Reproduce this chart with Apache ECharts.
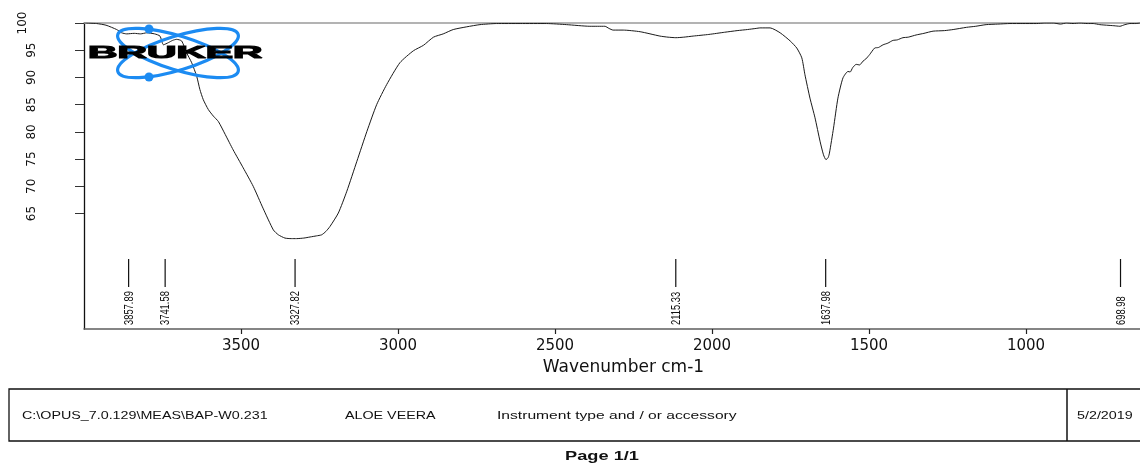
<!DOCTYPE html>
<html>
<head>
<meta charset="utf-8">
<title>ALOE VEERA – IR spectrum</title>
<script src="https://cdn.jsdelivr.net/npm/echarts@6/dist/echarts.min.js"></script>
<style>
  html, body { margin: 0; padding: 0; background: #ffffff; }
  #chart { width: 1140px; height: 464px; }
</style>
</head>
<body>
<div id="chart"></div>
<script>
// Wavenumber (cm-1) of each sampled point of the transmittance trace
const wavenumber = [3996, 3960, 3930, 3896, 3880, 3864, 3840, 3820, 3800, 3775, 3758, 3747, 3731, 3718, 3705, 3689,
  3673, 3657, 3641, 3631, 3620, 3604, 3588, 3572, 3550, 3525, 3493, 3461, 3430, 3397, 3381, 3360, 3340, 3323,
  3300, 3280, 3260, 3243, 3230, 3217, 3190, 3163, 3131, 3099, 3068, 3036, 2994, 2951, 2919, 2887, 2856, 2824,
  2781, 2739, 2686, 2611, 2527, 2463, 2389, 2341, 2328, 2315, 2283, 2229, 2166, 2140, 2115, 2090, 2060, 2010,
  1960, 1920, 1887, 1860, 1847, 1815, 1783, 1751, 1730, 1714, 1704, 1688, 1672, 1656, 1645, 1637, 1630, 1626,
  1613, 1599, 1583, 1567, 1560, 1552, 1541, 1530, 1519, 1510, 1498, 1482, 1470, 1455, 1440, 1424, 1410, 1392,
  1375, 1350, 1325, 1296, 1260, 1232, 1190, 1160, 1127, 1090, 1051, 1010, 966, 940, 913, 890, 871, 850, 828,
  805, 786, 765, 744, 720, 701, 685, 669, 650, 637, 600];

// Transmittance (%) at each wavenumber above
const transmittance = [100.0, 99.9, 99.6, 98.8, 98.2, 98.0, 98.1, 98.0, 98.2, 98.0, 97.6, 96.0, 96.4, 96.8, 97.0, 96.7,
  94.5, 92.7, 90.2, 87.8, 85.9, 84.1, 82.9, 81.9, 79.5, 76.7, 73.4, 70.0, 66.0, 62.0, 61.1, 60.5, 60.4, 60.4,
  60.5, 60.7, 60.9, 61.1, 61.7, 62.6, 65.1, 69.1, 74.6, 80.1, 85.0, 88.7, 92.7, 94.9, 95.9, 97.4, 98.0, 98.8,
  99.3, 99.7, 99.9, 99.9, 99.9, 99.7, 99.4, 99.4, 99.0, 98.7, 98.7, 98.4, 97.6, 97.4, 97.3, 97.4, 97.6, 97.9,
  98.3, 98.6, 98.8, 99.0, 99.1, 99.1, 98.2, 96.7, 95.4, 93.6, 90.5, 86.2, 82.6, 78.3, 75.8, 74.9, 75.3, 76.1,
  80.7, 86.2, 89.9, 91.1, 91.0, 91.8, 92.4, 92.3, 93.0, 93.4, 94.2, 95.4, 95.5, 96.0, 96.3, 96.8, 96.9, 97.3,
  97.4, 97.8, 98.1, 98.5, 98.6, 98.8, 99.2, 99.4, 99.7, 99.8, 99.9, 99.9, 99.9, 100.0, 100.0, 99.8, 100.0, 99.9, 100.0,
  99.9, 99.9, 99.7, 99.6, 99.5, 99.4, 99.7, 99.9, 99.9, 100.0, 100.0];

// Picked peak positions (cm-1)
const peakWavenumbers = [3857.89, 3741.58, 3327.82, 2115.33, 1637.98, 698.98];

// Axis tick labels
const xTicks = [3500, 3000, 2500, 2000, 1500, 1000];
const yTicks = [65, 70, 75, 80, 85, 90, 95, 100];

// Footer strings
const filePath = 'C:\\OPUS_7.0.129\\MEAS\\BAP-W0.231';
const sampleName = 'ALOE VEERA';
const instrumentText = 'Instrument type and / or accessory';
const dateText = '5/2/2019';
const pageText = 'Page 1/1';

const spectrum = wavenumber.map((w, i) => [w, transmittance[i]]);
const peaks = peakWavenumbers.map(w => [w, 50]);

const chart = echarts.init(document.getElementById('chart'), null, { renderer: 'canvas' });

const ink = '#111111';
const logoBlue = '#1c8bf2';
const arial = '"Liberation Sans", Arial, sans-serif';
const wide = '"DejaVu Sans", sans-serif';

function footerText(text, x, y, sx) {
  return {
    type: 'text',
    x: x, y: y,
    scaleX: sx,
    silent: true,
    style: {
      text: text,
      font: '11px ' + arial,
      fill: ink,
      textAlign: 'left', align: 'left',
      textVerticalAlign: 'middle', verticalAlign: 'middle'
    }
  };
}

const option = {
  animation: false,
  backgroundColor: '#ffffff',
  grid: { left: 84, right: -43, top: 23, bottom: 135, containLabel: false, outerBoundsMode: 'none' },
  xAxis: [{
    type: 'value',
    min: 500, max: 4000,
    inverse: true,
    position: 'bottom',
    name: 'Wavenumber cm-1',
    nameLocation: 'middle',
    nameGap: 29,
    nameTextStyle: { fontFamily: wide, fontSize: 17, color: ink, padding: [0, 20, 0, 0] },
    axisLine: { show: true, lineStyle: { color: '#5e5e5e', width: 1.5 } },
    axisTick: { show: true, length: 5, customValues: xTicks, lineStyle: { color: '#222', width: 1.2 } },
    axisLabel: { customValues: xTicks, margin: 10, fontFamily: wide, fontSize: 15, color: ink,
      formatter: v => String(v) },
    splitLine: { show: false }
  }, {
    type: 'value',
    min: 500, max: 4000,
    inverse: true,
    position: 'top',
    axisLine: { show: true, lineStyle: { color: '#9a9a9a', width: 1.5 } },
    axisTick: { show: false },
    axisLabel: { show: false },
    splitLine: { show: false }
  }],
  yAxis: {
    type: 'value',
    min: 43.8, max: 100,
    axisLine: { show: true, lineStyle: { color: ink, width: 1.3 } },
    axisTick: { show: true, length: 9, customValues: yTicks, lineStyle: { color: '#333', width: 1 } },
    axisLabel: {
      customValues: yTicks,
      rotate: 90,
      margin: 46,
      fontFamily: wide, fontSize: 12, color: ink,
      formatter: v => (v === 100 ? '{top|' + v + '}' : '{n|' + v + '}'),
      rich: {
        top: { fontFamily: wide, fontSize: 12, color: ink, padding: [0, 0, 9, 0] },
        n: { fontFamily: wide, fontSize: 12, color: ink }
      }
    },
    splitLine: { show: false }
  },
  series: [{
    type: 'line',
    name: 'ALOE VEERA',
    data: spectrum,
    showSymbol: false,
    smooth: 0.2,
    lineStyle: { color: '#1a1a1a', width: 1 },
    z: 3
  }, {
    type: 'custom',
    name: 'peaks',
    data: peaks,
    z: 4,
    renderItem: function (params, api) {
      const x = api.coord([api.value(0), 100])[0];
      const cs = params.coordSys;
      const yb = cs.y + cs.height;
      const label = api.value(0).toFixed(2);
      return {
        type: 'group',
        children: [{
          type: 'line',
          shape: { x1: x, y1: yb - 70, x2: x, y2: yb - 42 },
          style: { stroke: ink, lineWidth: 1.2 }
        }, {
          type: 'text',
          x: x + 1, y: yb - 4,
          rotation: Math.PI / 2,
          scaleX: 0.78,
          style: {
            text: label,
            font: '12px ' + arial,
            fill: ink,
            textAlign: 'left', align: 'left',
            textVerticalAlign: 'middle', verticalAlign: 'middle'
          }
        }]
      };
    }
  }],
  graphic: [
    // Bruker logo: two crossing orbits with electrons and the word mark
    { type: 'ellipse', x: 178, y: 53, rotation: 0.30, shape: { cx: 0, cy: 0, rx: 63, ry: 17 },
      style: { fill: 'none', stroke: logoBlue, lineWidth: 3.2 }, z: 10, silent: true },
    { type: 'ellipse', x: 178, y: 53, rotation: -0.30, shape: { cx: 0, cy: 0, rx: 63, ry: 17 },
      style: { fill: 'none', stroke: logoBlue, lineWidth: 3.2 }, z: 10, silent: true },
    { type: 'circle', shape: { cx: 149, cy: 29, r: 4.5 }, style: { fill: logoBlue }, z: 11, silent: true },
    { type: 'circle', shape: { cx: 149, cy: 77, r: 4.5 }, style: { fill: logoBlue }, z: 11, silent: true },
    { type: 'text', x: 88, y: 53, scaleX: 2.4, z: 12, silent: true,
      style: { text: 'BRUKER', font: 'bold 17px ' + arial, fill: '#000000',
        stroke: '#000000', lineWidth: 1.1,
        textAlign: 'left', align: 'left', textVerticalAlign: 'middle', verticalAlign: 'middle' } },

    // Footer information box
    { type: 'rect', shape: { x: 9, y: 389, width: 1140, height: 52 },
      style: { fill: 'none', stroke: ink, lineWidth: 1.3 }, silent: true },
    { type: 'line', shape: { x1: 1067, y1: 389, x2: 1067, y2: 441 },
      style: { stroke: ink, lineWidth: 1.5 }, silent: true },
    footerText(filePath, 22, 416, 1.3),
    footerText(sampleName, 345, 416, 1.3),
    footerText(instrumentText, 497, 416, 1.42),
    footerText(dateText, 1077, 416, 1.3),
    { type: 'text', x: 602, y: 456, scaleX: 1.4, silent: true,
      style: { text: pageText, font: 'bold 13px ' + arial, fill: ink,
        textAlign: 'center', align: 'center', textVerticalAlign: 'middle', verticalAlign: 'middle' } }
  ]
};

chart.setOption(option);
</script>
</body>
</html>
